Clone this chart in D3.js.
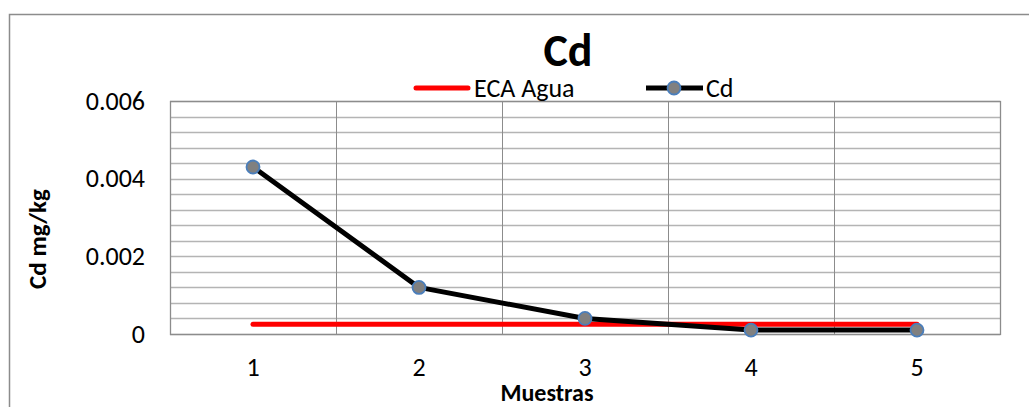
<!DOCTYPE html>
<html><head><meta charset="utf-8">
<script src="https://cdn.jsdelivr.net/npm/d3@7"></script>
<style>body{margin:0;background:#fff}svg{display:block}text{font-family:Calibri,Carlito,Lato,sans-serif}</style>
</head><body>
<svg id="c" width="1029" height="407"></svg>
<script>
const categories = ["1","2","3","4","5"];
const cdValues = [0.0043, 0.0012, 0.0004, 0.0001, 0.0001];
const ecaValues = [0.00025, 0.00025, 0.00025, 0.00025, 0.00025];
const yTicks = [0, 0.002, 0.004, 0.006];
const yMinorStep = 0.0004;
const seriesNames = ["ECA Agua", "Cd"];

const svg = d3.select("#c");
const m = {left:170, top:101, right:1000, bottom:334};
const F = "Calibri,Carlito,Lato,sans-serif";

svg.append("rect").attr("x",9.5).attr("y",14.5).attr("width",1040).attr("height",420)
  .attr("fill","#fff").attr("stroke","#8c8c8c").attr("stroke-width",1.5);

const x = d3.scaleBand().domain(categories).range([m.left,m.right]);
const y = d3.scaleLinear().domain([0,0.006]).range([m.bottom,m.top]);

const hLines = d3.range(0, 0.006 + 1e-9, yMinorStep);
svg.append("g").selectAll("line").data(hLines).join("line")
  .attr("x1",m.left).attr("x2",m.right)
  .attr("y1",d=>Math.round(y(d))+0.5).attr("y2",d=>Math.round(y(d))+0.5)
  .attr("stroke","#b4b4b4").attr("stroke-width",1.3);
svg.append("g").selectAll("line").data(categories.slice(1)).join("line")
  .attr("x1",d=>Math.round(x(d))+0.5).attr("x2",d=>Math.round(x(d))+0.5)
  .attr("y1",m.top).attr("y2",m.bottom)
  .attr("stroke","#8c8c8c").attr("stroke-width",1);
svg.append("rect").attr("x",m.left+0.5).attr("y",m.top+0.5)
  .attr("width",m.right-m.left).attr("height",m.bottom-m.top)
  .attr("fill","none").attr("stroke","#8c8c8c").attr("stroke-width",1.3);

const yAxis = d3.axisLeft(y).tickValues(yTicks).tickSize(0).tickPadding(25)
  .tickFormat(d=> d===0 ? "0" : d3.format(".3f")(d));
const gy = svg.append("g").attr("transform",`translate(${m.left},0)`).call(yAxis);
gy.select(".domain").remove();
gy.selectAll("text").attr("font-size",26).attr("fill","#000").attr("font-family",F);

const xAxis = d3.axisBottom(x).tickSize(0).tickPadding(24);
const gx = svg.append("g").attr("transform",`translate(0,${m.bottom})`).call(xAxis);
gx.select(".domain").remove();
gx.selectAll("text").attr("font-size",26).attr("fill","#000").attr("font-family",F);

const cx = d => x(d) + x.bandwidth()/2;

const line = d3.line().x((d,i)=>cx(categories[i])).y(d=>y(d));
svg.append("path").datum(ecaValues).attr("d",line)
  .attr("fill","none").attr("stroke","#ff0000").attr("stroke-width",5).attr("stroke-linecap","round");
svg.append("path").datum(cdValues).attr("d",line)
  .attr("fill","none").attr("stroke","#000").attr("stroke-width",5).attr("stroke-linejoin","round");
svg.append("g").selectAll("circle").data(cdValues).join("circle")
  .attr("cx",(d,i)=>cx(categories[i])).attr("cy",d=>y(d)).attr("r",6.5)
  .attr("fill","#808080").attr("stroke","#4a7ebb").attr("stroke-width",1.8);

svg.append("text").attr("x",568).attr("y",66).attr("text-anchor","middle")
  .attr("font-size",46).attr("font-weight","bold").text("Cd");

svg.append("line").attr("x1",416).attr("x2",468).attr("y1",88).attr("y2",88)
  .attr("stroke","#ff0000").attr("stroke-width",5).attr("stroke-linecap","round");
svg.append("text").attr("x",474).attr("y",97).attr("font-size",26).text(seriesNames[0]);
svg.append("line").attr("x1",646).attr("x2",703).attr("y1",88).attr("y2",88)
  .attr("stroke","#000").attr("stroke-width",5);
svg.append("circle").attr("cx",674).attr("cy",88).attr("r",6.5)
  .attr("fill","#808080").attr("stroke","#4a7ebb").attr("stroke-width",1.8);
svg.append("text").attr("x",706).attr("y",97).attr("font-size",26).text(seriesNames[1]);

svg.append("text").attr("x",547).attr("y",401).attr("text-anchor","middle")
  .attr("font-size",24).attr("font-weight","bold").text("Muestras");
svg.append("text").attr("transform","translate(46,239) rotate(-90)").attr("text-anchor","middle")
  .attr("font-size",25).attr("font-weight","bold").text("Cd mg/kg");
</script>
</body></html>
